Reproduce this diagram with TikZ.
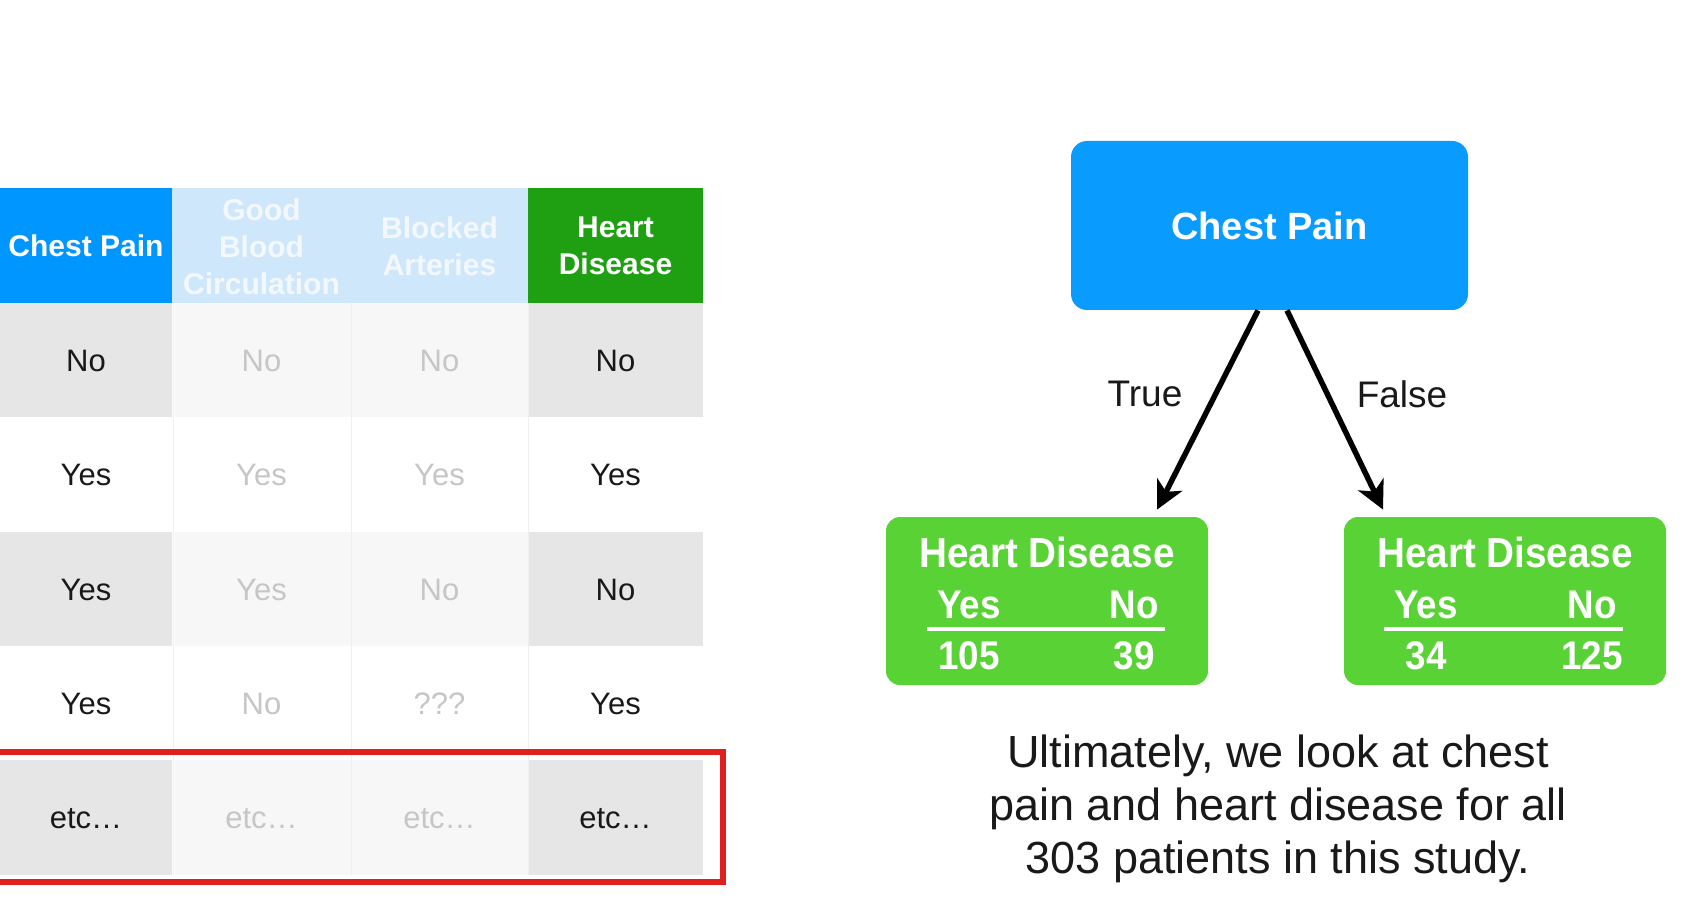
\documentclass[tikz,border=0pt]{standalone}
\usepackage{fontspec}
\setmainfont{Liberation Sans}
\newfontfamily\narrowbold[FakeStretch=0.92]{Liberation Sans Bold}
\usetikzlibrary{arrows.meta,calc}

\definecolor{hdrblue}{RGB}{0,150,255}
\definecolor{hdrpale}{RGB}{207,231,251}
\definecolor{hdrgreen}{RGB}{31,160,18}
\definecolor{leafgreen}{RGB}{88,210,52}
\definecolor{rootblue}{RGB}{10,155,255}
\definecolor{cellgray}{RGB}{230,230,230}
\definecolor{cellpale}{RGB}{247,247,247}
\definecolor{fadetext}{RGB}{198,198,198}
\definecolor{rulegray}{RGB}{239,239,239}
\definecolor{markred}{RGB}{224,32,30}
\definecolor{paletext}{RGB}{242,248,254}
\definecolor{ink}{RGB}{25,25,25}

\tikzset{
  hdr/.style={font=\bfseries\fontsize{15}{18.5}\selectfont, align=center, inner sep=0pt},
  cell/.style={font=\fontsize{15.5}{18}\selectfont, text=ink, inner sep=0pt},
  fadecell/.style={cell, text=fadetext},
  rootbox/.style={fill=rootblue, rounded corners=8pt, minimum width=198.5pt,
    minimum height=84.5pt, text=white, font=\bfseries\fontsize{19}{23}\selectfont},
  leafbox/.style={fill=leafgreen, rounded corners=7pt, minimum width=161pt,
    minimum height=84pt, inner sep=0pt},
  leafhead/.style={text=white, font=\narrowbold\fontsize{21}{24}\selectfont, inner sep=0pt},
  leafnum/.style={text=white, font=\narrowbold\fontsize{20}{23}\selectfont, inner sep=0pt},
  leafrule/.style={white, line width=2.25pt},
  branch/.style={line width=2.75pt, -{Stealth[length=14pt,width=14pt,inset=4pt]}},
  branchlabel/.style={font=\fontsize{18.5}{22}\selectfont, text=ink, inner sep=0pt},
  note/.style={font=\fontsize{22.5}{26.5}\selectfont, text=ink, align=center, inner sep=0pt}
}

\begin{document}
\begin{tikzpicture}[x=0.5pt,y=-0.5pt]
\useasboundingbox (0,0) rectangle (1684,914);
\fill[white] (0,0) rectangle (1684,914);

% ---- data table: header row
\fill[hdrblue]  (0,188)   rectangle (172,303);
\fill[hdrpale]  (172,188) rectangle (528,303);
\fill[hdrgreen] (528,188) rectangle (703,303);

% ---- data table: shaded rows
\foreach \ya/\yb in {303/417, 532/646, 760/875}{
  \fill[cellgray] (0,\ya)   rectangle (172,\yb);
  \fill[cellpale] (175,\ya) rectangle (528,\yb);
  \fill[cellgray] (528,\ya) rectangle (703,\yb);
}
% faint column separators
\foreach \xx in {173.5,351,528}{
  \draw[rulegray, line width=0.5pt] (\xx,303) -- (\xx,875);
}

% header labels
\node[hdr, text=white]    (h1) at (86,246)    {Chest Pain};
\node[hdr, text=paletext] (h2) at (261.5,247) {Good\\Blood\\Circulation};
\node[hdr, text=paletext] (h3) at (439.5,246) {Blocked\\Arteries};
\node[hdr, text=white]    (h4) at (615.5,246) {Heart\\Disease};

% row 1
\node[cell]     (r1c1) at (86,361)    {No};
\node[fadecell] (r1c2) at (261.5,361) {No};
\node[fadecell] (r1c3) at (439.5,361) {No};
\node[cell]     (r1c4) at (615.5,361) {No};
% row 2
\node[cell]     (r2c1) at (86,475)    {Yes};
\node[fadecell] (r2c2) at (261.5,475) {Yes};
\node[fadecell] (r2c3) at (439.5,475) {Yes};
\node[cell]     (r2c4) at (615.5,475) {Yes};
% row 3
\node[cell]     (r3c1) at (86,590)    {Yes};
\node[fadecell] (r3c2) at (261.5,590) {Yes};
\node[fadecell] (r3c3) at (439.5,590) {No};
\node[cell]     (r3c4) at (615.5,590) {No};
% row 4
\node[cell]     (r4c1) at (86,704)    {Yes};
\node[fadecell] (r4c2) at (261.5,704) {No};
\node[fadecell] (r4c3) at (439.5,704) {???};
\node[cell]     (r4c4) at (615.5,704) {Yes};
% row 5
\node[cell]     (r5c1) at (86,819)    {etc\dots};
\node[fadecell] (r5c2) at (261.5,819) {etc\dots};
\node[fadecell] (r5c3) at (439.5,819) {etc\dots};
\node[cell]     (r5c4) at (615.5,819) {etc\dots};

% highlight around the last row
\draw[markred, line width=3pt] (-10,752) rectangle (723,882);

% ---- decision stump
\node[rootbox] (root) at (1269.5,225.5) {Chest Pain};

\node[leafbox] (leafT) at (1047,601) {};
\node[leafbox] (leafF) at (1505,601) {};

\node[leafhead] (leafThd) at (1047,552) {Heart Disease};
\node[leafnum]  (leafTy)  at (969,605)  {Yes};
\node[leafnum]  (leafTn)  at (1134,605) {No};
\node[leafnum]  (leafTyv) at (969,656)  {105};
\node[leafnum]  (leafTnv) at (1134,656) {39};
\draw[leafrule] (927,629) -- (1165,629);

\node[leafhead] (leafFhd) at (1505,552) {Heart Disease};
\node[leafnum]  (leafFy)  at (1426,605) {Yes};
\node[leafnum]  (leafFn)  at (1592,605) {No};
\node[leafnum]  (leafFyv) at (1426,656) {34};
\node[leafnum]  (leafFnv) at (1592,656) {125};
\draw[leafrule] (1384,629) -- (1623,629);

\draw[branch] ([xshift=-5.75pt]root.south) -- ([xshift=55pt,yshift=3.5pt]leafT.north);
\draw[branch] ([xshift=8.75pt]root.south) -- ([xshift=-61pt,yshift=3.5pt]leafF.north);

\node[branchlabel] (lblTrue)  at (1145,394) {True};
\node[branchlabel] (lblFalse) at (1402,394) {False};

\node[note] (summary) at (1278,809)
  {Ultimately, we look at chest\\pain and heart disease for all\\303 patients in this study.};
\end{tikzpicture}
\end{document}
